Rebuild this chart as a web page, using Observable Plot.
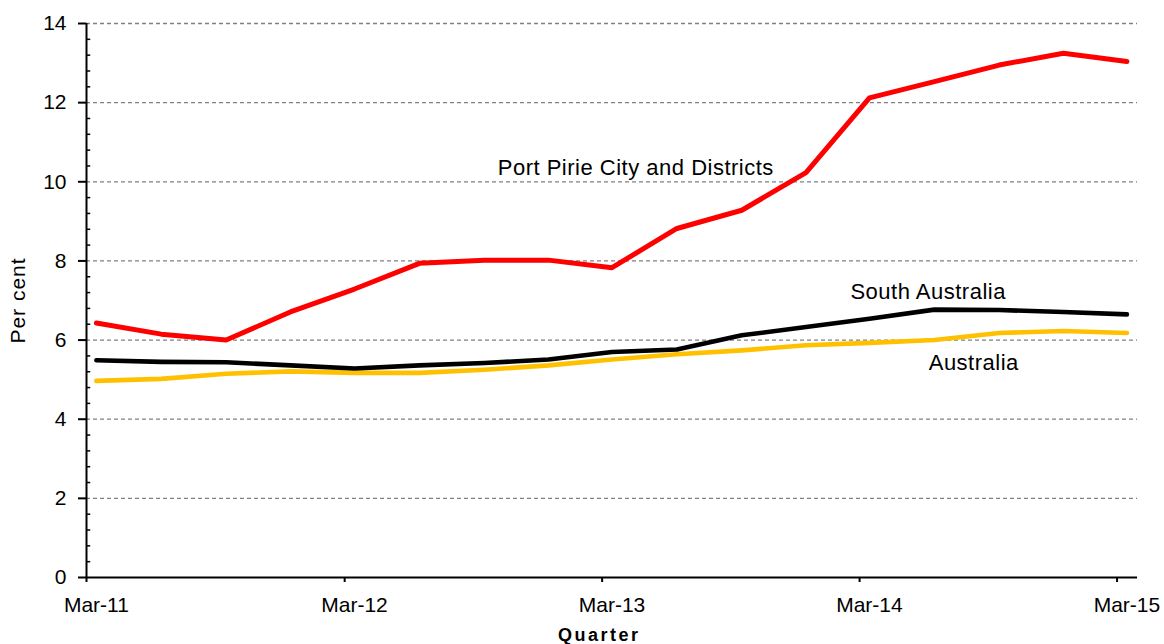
<!DOCTYPE html>
<html>
<head>
<meta charset="utf-8">
<script src="https://cdn.jsdelivr.net/npm/d3@7"></script>
<script src="https://cdn.jsdelivr.net/npm/@observablehq/plot@0.6"></script>
<style>
  html, body { margin: 0; padding: 0; background: #fff; }
  #chart { width: 1164px; height: 644px; }
</style>
</head>
<body>
<div id="chart"></div>
<script>
const quarters = ["Mar-11","Jun-11","Sep-11","Dec-11","Mar-12","Jun-12","Sep-12","Dec-12","Mar-13","Jun-13","Sep-13","Dec-13","Mar-14","Jun-14","Sep-14","Dec-14","Mar-15"];
const portPirie = [6.43,6.15,6.0,6.71,7.29,7.94,8.02,8.02,7.83,8.82,9.28,10.23,12.12,12.53,12.95,13.25,13.04];
const southAustralia = [5.49,5.45,5.44,5.36,5.28,5.36,5.42,5.51,5.70,5.76,6.12,6.33,6.54,6.77,6.76,6.71,6.65];
const australia = [4.97,5.02,5.15,5.21,5.17,5.17,5.25,5.36,5.51,5.64,5.74,5.87,5.93,6.0,6.18,6.23,6.18];
const yearLabels = ["Mar-11","Mar-12","Mar-13","Mar-14","Mar-15"];
const yTicks = [0,2,4,6,8,10,12,14];
const seriesNames = ["Port Pirie City and Districts","South Australia","Australia"];
const seriesColors = ["#FF0000","#000000","#FFC000"];
// annotation anchors in data space: [date, value]
const labelDates = ["2012-10-04","2014-02-16","2014-06-07"];
const labelValues = [10.35,7.21,5.41];

const parseQ = d3.utcParse("%b-%y");
const mid = s => d3.utcDay.offset(parseQ(s), 14);
const start = parseQ("Mar-11");
const end = d3.utcDay.offset(parseQ("Mar-15"), 29);

const rows = [];
[portPirie, southAustralia, australia].forEach((vals, i) => {
  vals.forEach((v, j) => rows.push({series: seriesNames[i], date: mid(quarters[j]), value: v}));
});
const minorTicks = d3.range(0, 14.001, 0.4).map(v => Math.round(v * 10) / 10).filter(v => Math.abs(v / 2 - Math.round(v / 2)) > 1e-6);
const labels = seriesNames.map((n, i) => ({text: n, date: new Date(labelDates[i] + "T00:00:00Z"), value: labelValues[i]}));

const lineOpts = (w) => ({x: "date", y: "value", stroke: "series", strokeWidth: w, strokeLinecap: "round", strokeLinejoin: "round"});

const chart = Plot.plot({
  width: 1164,
  height: 644,
  marginLeft: 86,
  marginRight: 27,
  marginTop: 23,
  marginBottom: 67,
  style: {fontFamily: "'Liberation Sans', Arial, sans-serif", fontSize: "21px", color: "#000", background: "#fff"},
  x: {type: "utc", domain: [start, end]},
  y: {domain: [0, 14]},
  color: {domain: seriesNames, range: seriesColors},
  marks: [
    Plot.gridY(yTicks.filter(d => d > 0), {stroke: "#808080", strokeOpacity: 1, strokeDasharray: "4,3", strokeWidth: 1.3}),
    Plot.axisY(yTicks, {tickSize: 8, tickPadding: 12, fontSize: 21, label: null, strokeWidth: 2}),
    Plot.ruleY(minorTicks, {x1: start, x2: d3.utcDay.offset(start, 6), strokeWidth: 1.5}),
    Plot.axisX(yearLabels.map(parseQ), {tickSize: 5, tickFormat: () => "", label: null, strokeWidth: 2}),
    Plot.axisX(yearLabels.map(mid), {tickSize: 0, tickPadding: 20, fontSize: 21, tickFormat: d3.utcFormat("%b-%y"), label: null}),
    Plot.ruleX([start], {stroke: "#000", strokeWidth: 2}),
    Plot.ruleY([0], {stroke: "#000", strokeWidth: 2}),
    Plot.lineY(rows.filter(d => d.series === "Australia"), lineOpts(4.6)),
    Plot.lineY(rows.filter(d => d.series === "South Australia"), lineOpts(4.6)),
    Plot.lineY(rows.filter(d => d.series === "Port Pirie City and Districts"), lineOpts(5)),
    Plot.text(labels, {x: "date", y: "value", text: "text", textAnchor: "start", lineAnchor: "middle", fontSize: 22, fill: "#000"}),
    Plot.text(["Per cent"], {frameAnchor: "left", textAnchor: "middle", lineAnchor: "middle", dx: -68, rotate: -90, fontSize: 21, fill: "#000"}),
    Plot.text(["Quarter"], {frameAnchor: "bottom", textAnchor: "middle", lineAnchor: "middle", dx: -12.75, dy: 58, fontSize: 18, fontWeight: "bold", fill: "#000"})
  ]
});
const spacing = {"Per cent": "1px", "Quarter": "2.5px"};
d3.select(chart).selectAll("g[aria-label='text'] text").each(function() {
  const t = this.textContent;
  this.style.letterSpacing = spacing[t] || "0.5px";
});
document.getElementById("chart").appendChild(chart);
</script>
</body>
</html>
